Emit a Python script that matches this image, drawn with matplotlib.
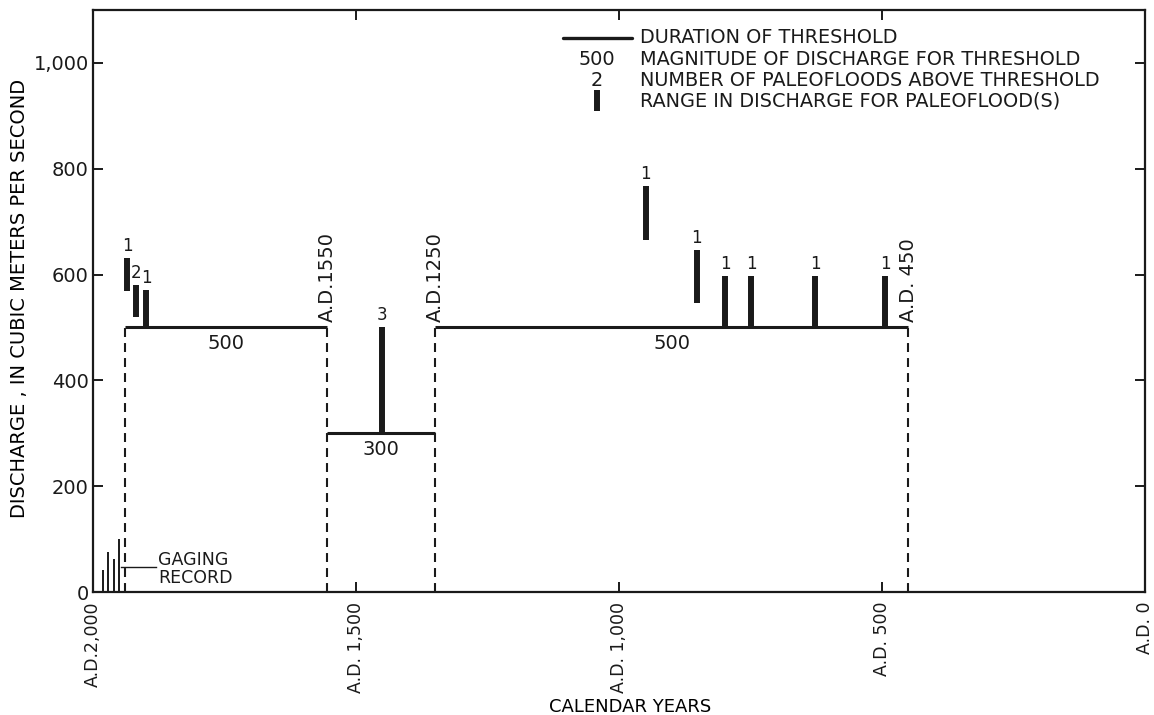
import matplotlib
matplotlib.use("Agg")
import matplotlib.pyplot as plt

# ---- data ----
gaging_years = [1981, 1971, 1960, 1951]
gaging_q = [42, 76, 62, 101]

threshold_start = [1940, 1555, 1350]
threshold_end = [1555, 1350, 450]
threshold_q = [500, 300, 500]

boundary_years = [1940, 1555, 1350, 450]
boundary_top = [500, 500, 500, 500]
boundary_labels = ["", "A.D.1550", "A.D.1250", "A.D. 450"]

flood_years = [1935, 1918, 1899, 1451, 949, 852, 798, 749, 627, 494]
flood_low = [569, 520, 500, 300, 665, 546, 500, 500, 500, 500]
flood_high = [631, 580, 571, 500, 767, 646, 597, 597, 597, 597]
flood_counts = ["1", "2", "1", "3", "1", "1", "1", "1", "1", "1"]

x_ticks = [2000, 1500, 1000, 500, 0]
x_ticklabels = ["A.D.2,000", "A.D. 1,500", "A.D. 1,000", "A.D. 500", "A.D. 0"]
y_ticks = [0, 200, 400, 600, 800, 1000]
y_ticklabels = ["0", "200", "400", "600", "800", "1,000"]

legend_texts = ["DURATION OF THRESHOLD",
                "MAGNITUDE OF DISCHARGE FOR THRESHOLD",
                "NUMBER OF PALEOFLOODS ABOVE THRESHOLD",
                "RANGE IN DISCHARGE FOR PALEOFLOOD(S)"]

# ---- figure ----
plt.rcParams['font.family'] = ['DejaVu Sans']
fig = plt.figure(figsize=(11.54, 7.15), dpi=100)
ax = fig.add_axes([93/1154, (715-592)/715, 1052/1154, 582/715])
ax.set_xlim(2000, 0)
ax.set_ylim(0, 1100)

ink = "#1a1a1a"
for s in ax.spines.values():
    s.set_linewidth(1.6)
    s.set_color(ink)

ax.set_xticks(x_ticks)
ax.set_xticklabels(x_ticklabels, rotation=90, fontsize=12.5, va="top", ha="center")
ax.set_yticks(y_ticks)
ax.set_yticklabels(y_ticklabels, fontsize=14)
ax.tick_params(direction="in", length=7.5, width=1.4, top=True, right=True,
               colors=ink)
ax.tick_params(axis="x", pad=7)
ax.tick_params(axis="y", pad=3)

ax.set_xlabel("CALENDAR YEARS", fontsize=13)
ax.xaxis.set_label_coords((630 - 93) / 1052, (592 - 698) / 582)
ax.set_ylabel("DISCHARGE , IN CUBIC METERS PER SECOND", fontsize=14)
ax.yaxis.set_label_coords((29 - 93) / 1052, 0.504)

# gaging record
ax.vlines(gaging_years, 0, gaging_q, color=ink, lw=1.4)
ax.plot([1946, 1880], [47, 47], color=ink, lw=1.0)
ax.text(1876, 43, "GAGING\nRECORD", fontsize=12.5, ha="left", va="center",
        linespacing=1.0, color=ink)

# dashed boundaries
for yr, top, lab in zip(boundary_years, boundary_top, boundary_labels):
    ax.plot([yr, yr], [0, top], color=ink, lw=1.5, ls=(0, (4.3, 2.9)))
    if lab:
        ax.text(yr, top + 10, lab, rotation=90, fontsize=14, ha="center",
                va="bottom", color=ink)

# thresholds
for x0, x1, q in zip(threshold_start, threshold_end, threshold_q):
    ax.plot([x0, x1], [q, q], color=ink, lw=2.2, solid_capstyle="butt")
    ax.text((x0 + x1) / 2, q - 12, str(q), fontsize=14, ha="center", va="top",
            color=ink)

# paleoflood ranges
ax.vlines(flood_years, flood_low, flood_high, color=ink, lw=4.3)
for yr, hi, c in zip(flood_years, flood_high, flood_counts):
    ax.text(yr, hi + 6, c, fontsize=12, ha="center", va="bottom", color=ink)

# legend (explanation)
T = ax.transAxes
ax.plot([0.4468, 0.5124], [0.9519, 0.9519], color=ink, lw=2.4,
        transform=T, solid_capstyle="round")
rows_y = [0.9519, 0.9158, 0.8797, 0.8436]
for yy, t in zip(rows_y, legend_texts):
    ax.text(0.520, yy, t, transform=T, fontsize=13.9, ha="left", va="center",
            color=ink)
ax.text(0.479, rows_y[1], "500", transform=T, fontsize=13.9, ha="center",
        va="center", color=ink)
ax.text(0.479, rows_y[2], "2", transform=T, fontsize=13.9, ha="center",
        va="center", color=ink)
ax.plot([0.479, 0.479], [0.8265, 0.8625], color=ink, lw=4.3, transform=T,
        solid_capstyle="butt")

fig.savefig("out.png", dpi=100)
